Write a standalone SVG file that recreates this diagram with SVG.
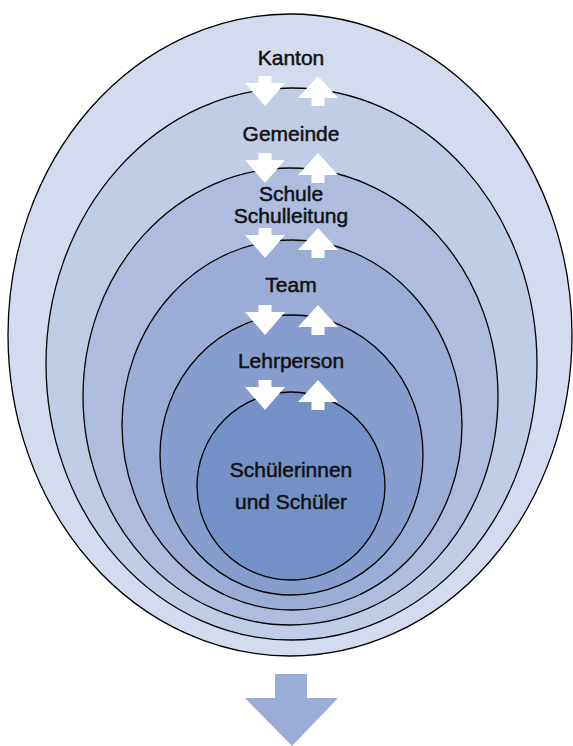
<svg xmlns="http://www.w3.org/2000/svg" width="573" height="746" viewBox="0 0 573 746">
<style>
.ring{stroke:#000;stroke-width:1.3}
.lbl{font-family:"Liberation Sans",Arial,sans-serif;font-size:21px;fill:#111;stroke:#111;stroke-width:0.5;text-anchor:middle}
.arr{fill:#fff}
</style>
<defs>
<path id="dn" d="M-6.5,0 H6.5 V7 H20 L0,30 L-20,7 H-6.5 Z"/>
<path id="up" d="M0,0 L20,22 H6.5 V30 H-6.5 V22 H-20 Z"/>
</defs>
<rect width="573" height="746" fill="#fff"/>
<g id="kanton"><ellipse class="ring" cx="290" cy="335" rx="282" ry="321" fill="#D5DBEF"/><text class="lbl" x="291" y="65">Kanton</text></g>
<g id="gemeinde"><ellipse class="ring" cx="291.5" cy="364" rx="245.5" ry="276" fill="#C1CDE7"/><text class="lbl" x="291" y="141">Gemeinde</text></g>
<g id="schule"><ellipse class="ring" cx="290.5" cy="396.5" rx="207.5" ry="228.5" fill="#AEBDDF"/><text class="lbl" x="291" y="201">Schule</text><text class="lbl" x="291" y="223">Schulleitung</text></g>
<g id="team"><ellipse class="ring" cx="292" cy="425" rx="170" ry="185" fill="#9AADD6"/><text class="lbl" x="291" y="292">Team</text></g>
<g id="lehrperson"><ellipse class="ring" cx="291.5" cy="455" rx="131.5" ry="140" fill="#869ECE"/><text class="lbl" x="291" y="368">Lehrperson</text></g>
<g id="schueler"><circle class="ring" cx="291" cy="486" r="94" fill="#7291C7"/><text class="lbl" x="291" y="477">Schülerinnen</text><text class="lbl" x="291" y="509">und Schüler</text></g>
<g id="connectors">
<g class="arr">
<use href="#dn" x="265" y="76"/><use href="#up" x="318" y="76"/>
<use href="#dn" x="265" y="153"/><use href="#up" x="318" y="153"/>
<use href="#dn" x="265" y="228"/><use href="#up" x="318" y="228"/>
<use href="#dn" x="265" y="305"/><use href="#up" x="318" y="305"/>
<use href="#dn" x="265" y="380"/><use href="#up" x="318" y="380"/>
</g>
<path d="M275,674 H307 V698 H338 L292,746 L245,698 H275 Z" fill="#9AADD6"/>
</g>
</svg>
